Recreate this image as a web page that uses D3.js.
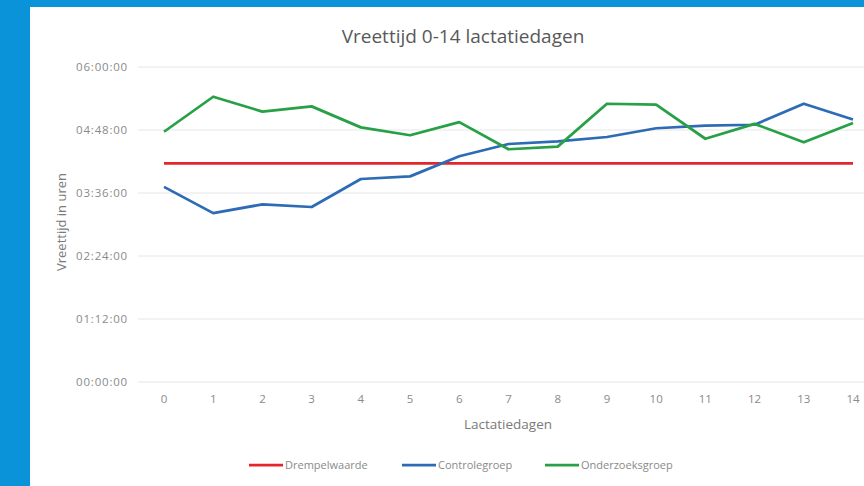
<!DOCTYPE html>
<html>
<head>
<meta charset="utf-8">
<script src="https://cdn.jsdelivr.net/npm/d3@7"></script>
<style>
  body { margin: 0; background: #0a93d8; }
  svg { display: block; font-family: "Open Sans", sans-serif; }
</style>
</head>
<body>
<svg id="chart" width="864" height="486"></svg>
<script>
// days on the x axis
var days = [0, 1, 2, 3, 4, 5, 6, 7, 8, 9, 10, 11, 12, 13, 14];
// eating time per day (h:mm)
var drempelwaarde = ["4:10", "4:10", "4:10", "4:10", "4:10", "4:10", "4:10", "4:10", "4:10", "4:10", "4:10", "4:10", "4:10", "4:10", "4:10"];
var controlegroep = ["3:43", "3:13", "3:23", "3:20", "3:52", "3:55", "4:18", "4:32", "4:35", "4:40", "4:50", "4:53", "4:54", "5:18", "5:00"];
var onderzoeksgroep = ["4:46", "5:26", "5:09", "5:15", "4:51", "4:42", "4:57", "4:26", "4:29", "5:18", "5:17", "4:38", "4:55", "4:34", "4:56"];
var yTicks = ["00:00:00", "01:12:00", "02:24:00", "03:36:00", "04:48:00", "06:00:00"];

function toMin(s) {
    var p = s.split(":");
    return parseInt(p[0]) * 60 + parseInt(p[1]) + (p[2] ? parseInt(p[2]) / 60 : 0);
}

var series = [
    {name: "Drempelwaarde", color: "#e3262a", values: drempelwaarde},
    {name: "Controlegroep", color: "#2d6cb5", values: controlegroep},
    {name: "Onderzoeksgroep", color: "#27a047", values: onderzoeksgroep}
];

var svg = d3.select("#chart");

// white panel
svg.append("rect")
    .attr("x", 30).attr("y", 7)
    .attr("width", 834).attr("height", 479)
    .attr("fill", "#ffffff");

var x = d3.scaleLinear().domain([0, 14]).range([164, 853]);
var y = d3.scaleLinear().domain([0, 360]).range([382, 67]);

// gridlines
svg.append("g").selectAll("line")
    .data(yTicks)
    .enter().append("line")
    .attr("x1", 138).attr("x2", 864)
    .attr("y1", function (d) { return y(toMin(d)); })
    .attr("y2", function (d) { return y(toMin(d)); })
    .attr("stroke", "#e6e6e6")
    .attr("stroke-width", 1);

// y tick labels
svg.append("g").selectAll("text")
    .data(yTicks)
    .enter().append("text")
    .attr("x", 128)
    .attr("y", function (d) { return y(toMin(d)) + 4; })
    .attr("text-anchor", "end")
    .attr("font-size", 11.5)
    .attr("letter-spacing", 0.8)
    .attr("fill", "#8a8a8a")
    .text(function (d) { return d; });

// x tick labels
svg.append("g").selectAll("text")
    .data(days)
    .enter().append("text")
    .attr("x", function (d) { return x(d); })
    .attr("y", 403)
    .attr("text-anchor", "middle")
    .attr("font-size", 11.5)
    .attr("fill", "#8a8a8a")
    .text(function (d) { return d; });

// titles
svg.append("text")
    .attr("x", 463).attr("y", 43)
    .attr("text-anchor", "middle")
    .attr("font-size", 19)
    .attr("fill", "#595959")
    .text("Vreettijd 0-14 lactatiedagen");

svg.append("text")
    .attr("x", 508).attr("y", 429)
    .attr("text-anchor", "middle")
    .attr("font-size", 13.5)
    .attr("fill", "#7a7a7a")
    .text("Lactatiedagen");

svg.append("text")
    .attr("transform", "translate(66,222) rotate(-90)")
    .attr("text-anchor", "middle")
    .attr("font-size", 13)
    .attr("fill", "#7a7a7a")
    .text("Vreettijd in uren");

// lines
var line = d3.line()
    .x(function (d, i) { return x(days[i]); })
    .y(function (d) { return y(toMin(d)); });

svg.append("g").selectAll("path")
    .data(series)
    .enter().append("path")
    .attr("d", function (d) { return line(d.values); })
    .attr("fill", "none")
    .attr("stroke", function (d) { return d.color; })
    .attr("stroke-width", 2.75)
    .attr("stroke-linejoin", "round");

// legend
var legendX = [249, 402, 545];
var lg = svg.append("g").selectAll("g")
    .data(series)
    .enter().append("g")
    .attr("transform", function (d, i) { return "translate(" + legendX[i] + ",465)"; });

lg.append("line")
    .attr("x1", 0).attr("x2", 34)
    .attr("y1", 0).attr("y2", 0)
    .attr("stroke", function (d) { return d.color; })
    .attr("stroke-width", 2.75);

lg.append("text")
    .attr("x", 36).attr("y", 4)
    .attr("font-size", 11)
    .attr("fill", "#8a8a8a")
    .text(function (d) { return d.name; });
</script>
</body>
</html>
